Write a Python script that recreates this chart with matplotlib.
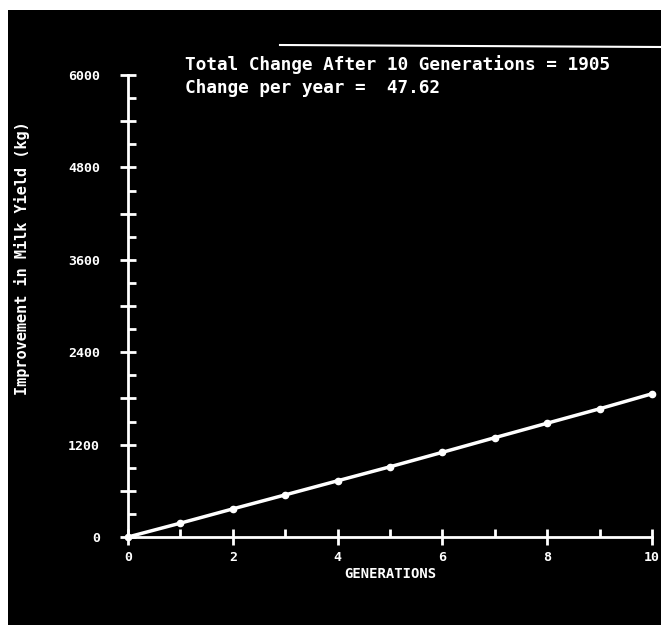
import matplotlib
matplotlib.use('Agg')
import matplotlib.pyplot as plt
from matplotlib.patches import Rectangle
from matplotlib.lines import Line2D
from matplotlib.ticker import FixedLocator, FixedFormatter

# data
generations = [0, 1, 2, 3, 4, 5, 6, 7, 8, 9, 10]
improvement = [0, 180, 365, 547, 730, 912, 1100, 1290, 1478, 1665, 1860]

x_ticks = [0, 2, 4, 6, 8, 10]
x_minor = [1, 3, 5, 7, 9]
y_ticks = [0, 600, 1200, 1800, 2400, 3000, 3600, 4200, 4800, 5400, 6000]
y_labels = ['0', '', '1200', '', '2400', '', '3600', '', '4800', '', '6000']
y_minor = [300, 900, 1500, 2100, 2700, 3300, 3900, 4500, 5100, 5700]

title_lines = ['Total Change After 10 Generations = 1905',
               'Change per year =  47.62']

mono = 'DejaVu Sans Mono'


def main():
    fig = plt.figure(figsize=(6.61, 6.25), dpi=100)
    fig.patch.set_facecolor('white')

    # black screen area, behind everything
    bg = fig.add_axes([8 / 661, 0, 653 / 661, 615 / 625])
    bg.set_facecolor('black')
    bg.set_axis_off()
    bg.add_patch(Rectangle((0, 0), 1, 1, transform=bg.transAxes, facecolor='black',
                           edgecolor='none'))
    bg.add_line(Line2D([(280 - 8) / 653, 1], [(580) / 615, (578) / 615], transform=bg.transAxes,
                       color='white', lw=1.5))
    bg.set_zorder(0)

    ax = fig.add_axes([128 / 661, 88 / 625, 524 / 661, 462 / 625])
    ax.set_zorder(2)
    ax.set_facecolor('none')
    ax.plot(generations, improvement, color='white', lw=2.5, marker='o', ms=4.5, clip_on=False)

    ax.set_xlim(0, 10)
    ax.set_ylim(0, 6000)
    for s in ['top', 'right']:
        ax.spines[s].set_visible(False)
    for s in ['left', 'bottom']:
        ax.spines[s].set_color('white')
        ax.spines[s].set_linewidth(2)

    ax.xaxis.set_major_locator(FixedLocator(x_ticks))
    ax.xaxis.set_minor_locator(FixedLocator(x_minor))
    ax.yaxis.set_major_locator(FixedLocator(y_ticks))
    ax.yaxis.set_major_formatter(FixedFormatter(y_labels))
    ax.yaxis.set_minor_locator(FixedLocator(y_minor))

    ax.tick_params(which='major', direction='inout', length=12, width=2, colors='white',
                   labelsize=9.5)
    ax.tick_params(which='minor', direction='in', length=6, width=2, colors='white')
    ax.tick_params(axis='y', which='major', pad=14)
    ax.tick_params(axis='x', which='major', pad=4)
    for lab in ax.get_xticklabels() + ax.get_yticklabels():
        lab.set_fontfamily(mono)
        lab.set_fontweight('bold')

    ax.set_xlabel('GENERATIONS', color='white', fontsize=10, fontfamily=mono,
                  fontweight='bold', labelpad=2)
    fig.text(22 / 661, 1 - 258 / 625, 'Improvement in Milk Yield (kg)', color='white',
             fontsize=11, fontfamily=mono, fontweight='bold', rotation=90,
             ha='center', va='center', zorder=3)

    fig.text(185 / 661, 1 - 65 / 625, title_lines[0], color='white', fontsize=12.8,
             fontfamily=mono, fontweight='bold', va='center', zorder=3)
    fig.text(185 / 661, 1 - 88 / 625, title_lines[1], color='white', fontsize=12.8,
             fontfamily=mono, fontweight='bold', va='center', zorder=3)

    fig.savefig('out.png', dpi=100, facecolor=fig.get_facecolor())


if __name__ == "__main__":
    main()
